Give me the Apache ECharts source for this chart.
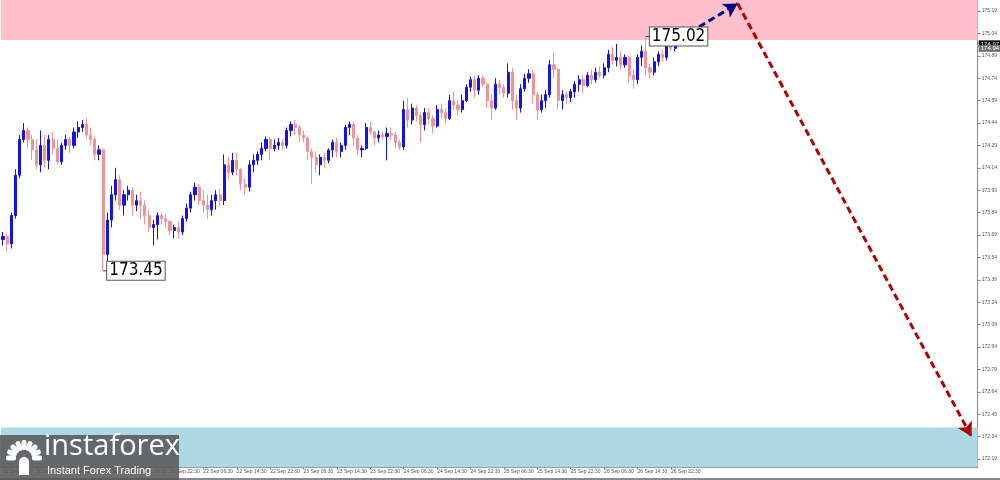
<!DOCTYPE html>
<html><head><meta charset="utf-8">
<script src="https://cdn.jsdelivr.net/npm/echarts@6/dist/echarts.min.js"></script>
<style>html,body{margin:0;padding:0;background:#fff}#c{width:1000px;height:480px}</style>
</head><body><div id="c"></div>
<script>
// ---- data ----
const tickLabels = ["20 Sep 06:30","20 Sep 14:30","20 Sep 22:30","21 Sep 06:30","21 Sep 14:30","21 Sep 22:30",
 "22 Sep 06:30","22 Sep 14:30","22 Sep 22:30","23 Sep 06:30","23 Sep 14:30","23 Sep 22:30",
 "24 Sep 06:30","24 Sep 14:30","24 Sep 22:30","25 Sep 06:30","25 Sep 14:30","25 Sep 22:30",
 "26 Sep 06:30","26 Sep 14:30","26 Sep 22:30"];
const opens = [173.66,173.68,173.63,173.82,174.09,174.33,174.39,174.33,174.26,174.16,
174.29,174.19,174.33,174.27,174.18,174.29,174.33,174.29,174.38,174.41,
174.43,174.36,174.33,174.23,174.26,173.56,173.79,173.96,174.06,173.89,
173.96,173.99,173.89,173.92,173.89,173.82,173.74,173.76,173.82,173.80,
173.78,173.72,173.74,173.71,173.80,173.87,173.96,174.01,173.92,173.89,
173.86,173.92,173.96,173.92,174.16,174.11,174.19,174.13,174.03,174.01,
174.16,174.19,174.23,174.27,174.33,174.27,174.29,174.31,174.29,174.39,
174.43,174.41,174.36,174.34,174.25,174.21,174.16,174.21,174.19,174.26,
174.31,174.25,174.29,174.41,174.43,174.34,174.26,174.27,174.41,174.38,
174.34,174.36,174.35,174.37,174.36,174.31,174.28,174.53,174.46,174.54,
174.49,174.43,174.51,174.47,174.42,174.53,174.51,174.47,174.59,174.56,
174.53,174.59,174.68,174.73,174.66,174.74,174.70,174.59,174.54,174.70,
174.68,174.64,174.78,174.59,174.54,174.67,174.74,174.77,174.63,174.53,
174.59,174.63,174.83,174.80,174.59,174.63,174.61,174.65,174.70,174.73,
174.69,174.76,174.73,174.78,174.76,174.81,174.90,174.86,174.88,174.83,
174.88,174.76,174.73,174.88,174.92,174.81,174.78,174.85,174.90,174.88,
174.96,174.94];
const closes = [173.68,173.63,173.82,174.09,174.33,174.39,174.33,174.26,174.16,174.29,
174.19,174.33,174.27,174.18,174.29,174.33,174.29,174.38,174.41,174.43,
174.36,174.33,174.23,174.26,173.56,173.79,173.96,174.06,173.89,173.96,
173.99,173.89,173.92,173.89,173.82,173.74,173.76,173.82,173.80,173.78,
173.72,173.74,173.71,173.80,173.87,173.96,174.01,173.92,173.89,173.86,
173.92,173.96,173.92,174.16,174.11,174.19,174.13,174.03,174.01,174.16,
174.19,174.23,174.27,174.33,174.27,174.29,174.31,174.29,174.39,174.43,
174.41,174.36,174.34,174.25,174.21,174.16,174.21,174.19,174.26,174.31,
174.25,174.29,174.41,174.43,174.34,174.26,174.27,174.41,174.38,174.34,
174.36,174.35,174.37,174.36,174.31,174.28,174.53,174.46,174.54,174.49,
174.43,174.51,174.47,174.42,174.53,174.51,174.47,174.59,174.56,174.53,
174.59,174.68,174.73,174.66,174.74,174.70,174.59,174.54,174.70,174.68,
174.64,174.78,174.59,174.54,174.67,174.74,174.77,174.63,174.53,174.59,
174.63,174.83,174.80,174.59,174.63,174.61,174.65,174.70,174.73,174.69,
174.76,174.73,174.78,174.76,174.81,174.90,174.86,174.88,174.83,174.88,
174.76,174.73,174.88,174.92,174.81,174.78,174.85,174.90,174.88,174.96,
174.94,174.97];
const lows = [173.62,173.58,173.60,173.80,174.07,174.31,174.27,174.19,174.13,174.11,
174.14,174.13,174.23,174.16,174.16,174.26,174.24,174.27,174.34,174.38,
174.34,174.29,174.19,174.19,173.45,173.50,173.74,173.92,173.86,173.82,
173.92,173.82,173.85,173.80,173.76,173.71,173.62,173.66,173.76,173.74,
173.69,173.67,173.67,173.69,173.78,173.84,173.92,173.89,173.84,173.80,
173.82,173.86,173.88,173.89,174.06,174.09,174.09,173.99,173.96,173.98,
174.11,174.16,174.19,174.25,174.19,174.25,174.26,174.26,174.27,174.35,
174.36,174.31,174.31,174.19,174.03,174.11,174.09,174.14,174.17,174.21,
174.21,174.21,174.26,174.36,174.29,174.23,174.21,174.26,174.36,174.29,
174.31,174.33,174.19,174.33,174.27,174.26,174.26,174.41,174.43,174.45,
174.31,174.39,174.43,174.37,174.41,174.47,174.44,174.46,174.53,174.49,
174.51,174.58,174.65,174.61,174.63,174.68,174.54,174.46,174.53,174.63,
174.61,174.61,174.53,174.46,174.51,174.65,174.71,174.57,174.46,174.51,
174.54,174.61,174.74,174.53,174.53,174.57,174.58,174.61,174.65,174.64,
174.68,174.70,174.71,174.74,174.74,174.78,174.83,174.82,174.80,174.81,
174.71,174.67,174.70,174.82,174.76,174.74,174.76,174.82,174.85,174.86,
174.92,174.92];
const highs = [173.71,173.70,173.84,174.13,174.36,174.44,174.41,174.36,174.33,174.39,
174.36,174.36,174.38,174.33,174.31,174.36,174.35,174.41,174.45,174.46,
174.47,174.41,174.35,174.29,174.27,173.84,174.02,174.14,174.09,173.99,
174.02,174.01,173.96,173.98,173.92,173.86,173.79,173.84,173.84,173.83,
173.79,173.76,173.78,173.82,173.90,173.98,174.04,174.03,173.99,173.96,
173.96,173.99,174.00,174.23,174.21,174.24,174.24,174.14,174.07,174.19,
174.23,174.25,174.31,174.35,174.35,174.33,174.34,174.33,174.41,174.45,
174.46,174.43,174.39,174.35,174.27,174.25,174.23,174.24,174.27,174.33,
174.34,174.31,174.43,174.45,174.45,174.36,174.29,174.44,174.45,174.39,
174.39,174.38,174.41,174.41,174.38,174.33,174.59,174.61,174.57,174.56,
174.51,174.54,174.54,174.49,174.56,174.57,174.54,174.63,174.65,174.59,
174.63,174.70,174.75,174.76,174.76,174.76,174.71,174.63,174.74,174.73,
174.70,174.84,174.81,174.63,174.70,174.77,174.80,174.80,174.65,174.63,
174.66,174.86,174.91,174.81,174.66,174.65,174.67,174.72,174.76,174.76,
174.78,174.80,174.81,174.82,174.84,174.93,174.95,174.97,174.92,174.90,
174.89,174.80,174.90,174.96,175.02,174.84,174.88,174.92,174.93,174.98,
175.00,174.98];
const priceTicks = [175.19,175.04,174.89,174.74,174.59,174.44,174.29,174.14,173.99,173.84,173.69,
 173.54,173.39,173.24,173.09,172.94,172.79,172.64,172.49,172.34,172.19];
const yMin = 172.136, yMax = 175.264;
const sellZone = [174.996, yMax];
const buyZone = [yMin, 172.40];
const forecastIdx = [160, 176, 232];
const forecastPrice = [174.97, 175.24, 172.34];
const extremeIdx = [24, 154];
const extremePrice = [173.45, 175.02];
const quotePrices = [174.97, 174.94];
const headerText = 'EURJPY,M30  174.95 174.97 174.91 174.94';
const totalSlots = 234, labelStep = 8;

// ---- build ----
const cats = [];
for (let i = 0; i < totalSlots; i++) cats.push(String(i));
const showTick = (idx) => idx % labelStep === 0 && idx / labelStep < tickLabels.length;
const candles = opens.map((o, i) => [o, closes[i], lows[i], highs[i]]);

const extremeMarks = extremeIdx.map((ix, k) => ({
  coord: [ix, extremePrice[k]], symbol: 'rect', symbolSize: [4, 1], symbolOffset: [2, 0],
  itemStyle: { color: '#333' },
  label: { show: true, position: 'right', distance: 0, formatter: extremePrice[k].toFixed(2),
    color: '#000', fontSize: 17, fontFamily: 'DejaVu Sans Condensed', backgroundColor: '#fff',
    borderColor: '#555', borderWidth: 1, padding: [1, 2, 0, 2] }
}));
const dashBlue = { color: '#00008b', width: 3, type: [7, 4] };
const dashRed = { color: '#b00000', width: 3, type: [7, 4] };
const quoteBg = ['#000', '#707070'];
const quoteLines = quotePrices.map((p, k) => ({
  yAxis: p, symbol: 'none', lineStyle: { color: 'rgba(0,0,0,0)', width: 1, type: 'solid' },
  label: { show: true, position: 'end', distance: 1, formatter: p.toFixed(2), color: '#fff',
    backgroundColor: quoteBg[k], fontSize: 6, padding: [1, 2, 0, 2], fontFamily: 'Liberation Sans' }
}));

// logo icon petals (decoration)
const petals = [];
for (let k = 0; k < 9; k++) {
  const a = (-180 + k * 22.5) * Math.PI / 180;
  petals.push({ type: 'rect', x: 24 + Math.cos(a) * 11, y: 458 + Math.sin(a) * 11,
    rotation: -(a + Math.PI / 2), shape: { x: -2.5, y: -7, width: 5, height: 10, r: 2 },
    style: { fill: '#fff' }, z: 101 });
}

const chart = echarts.init(document.getElementById('c'), null, { renderer: 'canvas' });
chart.setOption({
  animation: false,
  backgroundColor: '#fff',
  grid: { left: 0, right: 20, top: 0, bottom: 13, containLabel: false },
  xAxis: {
    type: 'category', data: cats, boundaryGap: true,
    axisLine: { show: true, lineStyle: { color: '#999', width: 1 } },
    axisTick: { show: true, alignWithLabel: true, length: 2, interval: (idx) => showTick(idx), lineStyle: { color: '#888' } },
    axisLabel: { interval: (idx) => showTick(idx), formatter: (v, idx) => tickLabels[idx / labelStep] || '',
      align: 'left', margin: 2, fontSize: 5, color: '#555', fontFamily: 'Liberation Sans' },
    splitLine: { show: false }
  },
  yAxis: {
    type: 'value', position: 'right', min: yMin, max: yMax, scale: true,
    axisLine: { show: true, lineStyle: { color: '#888', width: 1 } },
    axisTick: { show: true, length: 3, customValues: priceTicks, lineStyle: { color: '#888' } },
    axisLabel: { customValues: priceTicks, formatter: (v) => v.toFixed(2), fontSize: 5, color: '#555',
      margin: 4, fontFamily: 'Liberation Sans' },
    splitLine: { show: false }
  },
  series: [{
    type: 'candlestick', data: candles, barWidth: 2.6,
    itemStyle: { color: '#1212ee', color0: '#f29393', borderColor: '#1212ee', borderColor0: '#f29393', borderWidth: 1 },
    markArea: { silent: true, data: [
      [{ yAxis: sellZone[0], itemStyle: { color: '#ffc0cb' } }, { yAxis: sellZone[1] }],
      [{ yAxis: buyZone[0], itemStyle: { color: '#add8e6' } }, { yAxis: buyZone[1] }]
    ] },
    markLine: { silent: true, symbol: ['none', 'arrow'], symbolSize: [12, 14], animation: false,
      label: { show: false },
      data: [
        [{ coord: [forecastIdx[0], forecastPrice[0]], lineStyle: dashBlue, itemStyle: { color: '#00008b' } },
         { coord: [forecastIdx[1], forecastPrice[1]] }],
        [{ coord: [forecastIdx[1], forecastPrice[1]], lineStyle: dashRed, itemStyle: { color: '#b00000' } },
         { coord: [forecastIdx[2], forecastPrice[2]] }]
      ].concat(quoteLines)
    },
    markPoint: { silent: true, data: extremeMarks }
  }],
  graphic: [
    { type: 'text', x: 3, y: 1, style: { text: '▼', fill: '#333', font: '5px "DejaVu Sans"' } },
    { type: 'text', x: 9, y: 1, style: { text: headerText, fill: '#444', font: '5.5px "Liberation Sans"' } },
    { type: 'rect', shape: { x: 0, y: 478, width: 1000, height: 2 }, style: { fill: '#8a8a8a' }, z: 99 },
    { type: 'rect', shape: { x: 0, y: 435, width: 179, height: 45 }, style: { fill: 'rgba(85,85,85,0.85)' }, z: 100 },
    { type: 'circle', shape: { cx: 24, cy: 462, r: 5 }, style: { fill: '#fff' }, z: 101 },
    { type: 'rect', shape: { x: 19, y: 462, width: 10, height: 13 }, style: { fill: '#fff' }, z: 101 },
    ...petals,
    { type: 'text', x: 44, y: 432, style: { text: 'instaforex', fill: '#fff', font: '29px "Open Sans"' }, z: 101 },
    { type: 'text', x: 47, y: 465, style: { text: 'Instant Forex Trading', fill: '#fff', font: '11px "Liberation Sans"' }, z: 101 }
  ]
});
</script>
</body></html>
